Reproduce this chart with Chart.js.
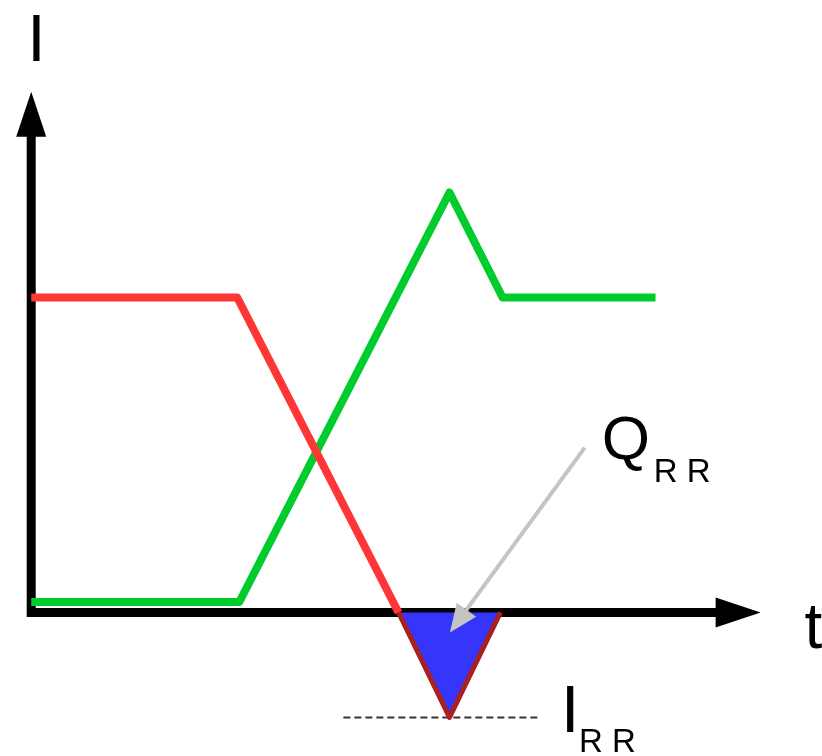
<!DOCTYPE html>
<html>
<head>
<meta charset="utf-8">
<script src="https://cdn.jsdelivr.net/npm/chart.js@4"></script>
<style>
  html, body { margin: 0; padding: 0; background: #fff; }
  canvas { display: block; }
</style>
</head>
<body>
<canvas id="recovery-chart" width="822" height="756"></canvas>
<script>

  // forward current through the diode until it reaches zero
  var timeForward = [ 0, 9.9, 17.65 ];
  var currentForward = [ 3, 3, 0 ];

  // reverse recovery lobe below the axis (Q_RR)
  var timeRecovery = [ 17.65, 20.1, 22.55 ];
  var currentRecovery = [ 0, -1, 0 ];

  // current taken over by the other branch
  var timeTakeover = [ 0, 10, 20.1, 22.65, 30 ];
  var currentTakeover = [ 0.1, 0.1, 4, 3, 3 ];

  // peak reverse current marker
  var irrTimes = [ 15, 24.45 ];
  var irrLevel = -1;

  // pointer to the recovered charge: from, to
  var qrrArrowTimes = [ 26.6, 20.12 ];
  var qrrArrowCurrents = [ 1.57, -0.19 ];

  var axisEnds = { t: 35.05, i: 4.96 };

  var toPoints = function( xs, ys ) {
    return xs.map( function( x, i ) {
      return { x: x, y: Array.isArray( ys ) ? ys[ i ] : ys };
    } );
  };

  var FONT = '"Liberation Sans", Arial, sans-serif';

  var arrowHead = function( ctx, x, y, angle, len, half ) {
    ctx.save();
    ctx.translate( x, y );
    ctx.rotate( angle );
    ctx.beginPath();
    ctx.moveTo( 0, 0 );
    ctx.lineTo( -len, -half );
    ctx.lineTo( -len, half );
    ctx.closePath();
    ctx.fill();
    ctx.restore();
  };

  var axesPlugin = {
    id: 'arrowAxes',
    beforeDatasetsDraw: function( chart ) {
      var ctx = chart.ctx;
      var xs = chart.scales.x, ys = chart.scales.y;
      var x0 = xs.getPixelForValue( 0 );
      var y0 = ys.getPixelForValue( 0 );
      var xTip = xs.getPixelForValue( axisEnds.t );
      var yTip = ys.getPixelForValue( axisEnds.i );
      var w = 9;

      ctx.save();
      ctx.strokeStyle = '#000';
      ctx.fillStyle = '#000';
      ctx.lineWidth = w;
      ctx.beginPath();
      ctx.moveTo( x0, y0 + w / 2 );
      ctx.lineTo( x0, yTip + 40 );
      ctx.moveTo( x0 - w / 2, y0 );
      ctx.lineTo( xTip - 40, y0 );
      ctx.stroke();
      arrowHead( ctx, x0, yTip, -Math.PI / 2, 45, 15 );
      arrowHead( ctx, xTip, y0, 0, 45, 15 );
      ctx.restore();
    },
    afterDatasetsDraw: function( chart ) {
      var ctx = chart.ctx;
      var xs = chart.scales.x, ys = chart.scales.y;

      // grey pointer to the recovery area
      var ax = xs.getPixelForValue( qrrArrowTimes[ 0 ] );
      var ay = ys.getPixelForValue( qrrArrowCurrents[ 0 ] );
      var bx = xs.getPixelForValue( qrrArrowTimes[ 1 ] );
      var by = ys.getPixelForValue( qrrArrowCurrents[ 1 ] );
      var ang = Math.atan2( by - ay, bx - ax );
      ctx.save();
      ctx.strokeStyle = '#c4c4c4';
      ctx.fillStyle = '#c4c4c4';
      ctx.lineWidth = 4;
      ctx.beginPath();
      ctx.moveTo( ax, ay );
      ctx.lineTo( bx - Math.cos( ang ) * 20, by - Math.sin( ang ) * 20 );
      ctx.stroke();
      arrowHead( ctx, bx, by, ang, 28, 12 );
      ctx.restore();

      // labels
      var x0 = xs.getPixelForValue( 0 );
      var y0 = ys.getPixelForValue( 0 );
      var xTip = xs.getPixelForValue( axisEnds.t );
      var yTip = ys.getPixelForValue( axisEnds.i );

      ctx.save();
      ctx.fillStyle = '#000';
      ctx.textAlign = 'left';
      ctx.textBaseline = 'alphabetic';

      ctx.font = '66px ' + FONT;
      ctx.fillText( 'I', x0 - 4, yTip - 31 );

      ctx.font = '64px ' + FONT;
      ctx.fillText( 't', xTip + 44, y0 + 36 );

      ctx.font = '62px ' + FONT;
      ctx.fillText( 'Q', ax + 17, ay + 11 );
      ctx.font = '33px ' + FONT;
      ctx.fillText( 'R R', ax + 69, ay + 34 );

      var ix = xs.getPixelForValue( irrTimes[ 1 ] );
      var iy = ys.getPixelForValue( irrLevel );
      ctx.font = '66px ' + FONT;
      ctx.fillText( 'I', ix + 21, iy + 15 );
      ctx.font = '33px ' + FONT;
      ctx.fillText( 'R R', ix + 39, iy + 35 );
      ctx.restore();
    }
  };

  new Chart( document.getElementById( 'recovery-chart' ), {
    type: 'scatter',
    data: {
      datasets: [
        {
          label: 'recovery',
          data: toPoints( timeRecovery, currentRecovery ),
          showLine: true,
          borderColor: '#a82020',
          backgroundColor: '#3535fb',
          borderWidth: 5,
          fill: 'origin',
          borderJoinStyle: 'round'
        },
        {
          label: 'forward',
          data: toPoints( timeForward, currentForward ),
          showLine: true,
          borderColor: '#ff3636',
          borderWidth: 8,
          fill: false,
          borderJoinStyle: 'round'
        },
        {
          label: 'irr',
          data: toPoints( irrTimes, irrLevel ),
          showLine: true,
          borderColor: '#333',
          borderWidth: 2,
          borderDash: [ 7, 4 ],
          fill: false
        },
        {
          label: 'takeover',
          data: toPoints( timeTakeover, currentTakeover ),
          showLine: true,
          borderColor: '#00cc2e',
          borderWidth: 8,
          fill: false,
          borderJoinStyle: 'round'
        }
      ]
    },
    options: {
      responsive: false,
      animation: false,
      devicePixelRatio: 1,
      layout: { padding: 0 },
      elements: { point: { radius: 0, hoverRadius: 0 } },
      plugins: {
        legend: { display: false },
        tooltip: { enabled: false }
      },
      scales: {
        x: { type: 'linear', min: -1.5, max: 38, display: false },
        y: { type: 'linear', min: -1.367, max: 5.833, display: false }
      }
    },
    plugins: [ axesPlugin ]
  } );

</script>
</body>
</html>
